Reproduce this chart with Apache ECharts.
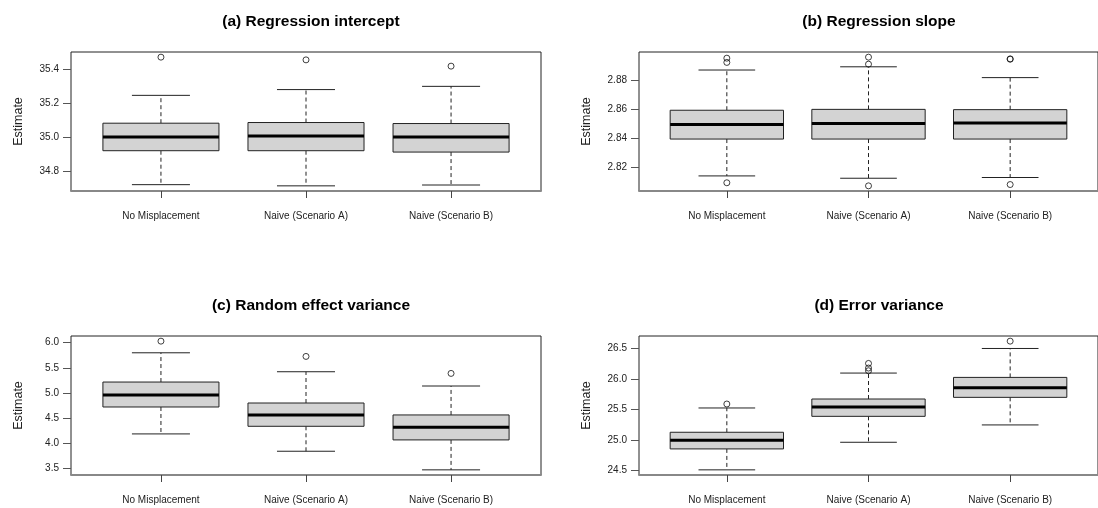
<!DOCTYPE html>
<html>
<head>
<meta charset="utf-8">
<script src="https://cdn.jsdelivr.net/npm/echarts@6/dist/echarts.min.js"></script>
<style>
  html, body { margin: 0; padding: 0; background: #fff; }
  #chart { width: 1098px; height: 508px; }
</style>
</head>
<body>
<div id="chart"></div>
<script>
// Groups shown on every panel
const categories = ['No Misplacement', 'Naive (Scenario A)', 'Naive (Scenario B)'];

// Five-number summaries per group: [lower whisker, Q1, median, Q3, upper whisker]
const interceptStats = [
  [34.722, 34.922, 35.002, 35.084, 35.248],
  [34.715, 34.922, 35.008, 35.088, 35.282],
  [34.720, 34.914, 35.002, 35.082, 35.301]
];
const interceptOutliers = [[35.473], [35.457], [35.420]];
const interceptTicks = [34.8, 35.0, 35.2, 35.4];

const slopeStats = [
  [2.8143, 2.8395, 2.8495, 2.8592, 2.8867],
  [2.8127, 2.8395, 2.8501, 2.8598, 2.8889],
  [2.8132, 2.8395, 2.8504, 2.8596, 2.8815]
];
const slopeOutliers = [[2.8096, 2.8919, 2.8948], [2.8075, 2.8907, 2.8955], [2.8084, 2.8941, 2.8943]];
const slopeTicks = [2.82, 2.84, 2.86, 2.88];

const reVarStats = [
  [4.189, 4.723, 4.960, 5.218, 5.798],
  [3.845, 4.340, 4.565, 4.802, 5.422],
  [3.476, 4.070, 4.321, 4.565, 5.139]
];
const reVarOutliers = [[6.029], [5.726], [5.389]];
const reVarTicks = [3.5, 4.0, 4.5, 5.0, 5.5, 6.0];

const errVarStats = [
  [24.511, 24.854, 24.996, 25.127, 25.525],
  [24.963, 25.388, 25.541, 25.672, 26.097],
  [25.247, 25.699, 25.857, 26.026, 26.500]
];
const errVarOutliers = [[25.590], [26.135, 26.179, 26.255], [26.620]];
const errVarTicks = [24.5, 25.0, 25.5, 26.0, 26.5];

const panelTitles = ['(a) Regression intercept', '(b) Regression slope', '(c) Random effect variance', '(d) Error variance'];

const FONT = 'Liberation Sans';

const panels = [
  { title: panelTitles[0], stats: interceptStats, outliers: interceptOutliers, ticks: interceptTicks, digits: 1, left: 71, top: 52 },
  { title: panelTitles[1], stats: slopeStats, outliers: slopeOutliers, ticks: slopeTicks, digits: 2, left: 639, top: 52 },
  { title: panelTitles[2], stats: reVarStats, outliers: reVarOutliers, ticks: reVarTicks, digits: 1, left: 71, top: 336 },
  { title: panelTitles[3], stats: errVarStats, outliers: errVarOutliers, ticks: errVarTicks, digits: 1, left: 639, top: 336 }
];
const PANEL_W = 470, PANEL_H = 139;

// Value range padded by 4% on each side, like a classic boxplot device
function paddedRange(stats, outliers) {
  const all = stats.flat().concat(outliers.flat());
  const lo = Math.min(...all), hi = Math.max(...all);
  const pad = (hi - lo) * 0.04;
  return [lo - pad, hi + pad];
}

// Box, dashed whiskers, caps and a heavy median line
function renderBox(params, api) {
  const x = api.value(0);
  const lo = api.value(1), q1 = api.value(2), med = api.value(3), q3 = api.value(4), hi = api.value(5);
  const pt = (dx, v) => api.coord([x + dx, v]);
  const seg = (a, b, style) => ({ type: 'line', shape: { x1: a[0], y1: a[1], x2: b[0], y2: b[1] }, style });
  const dashed = { stroke: '#222', lineWidth: 1, lineDash: [4, 3] };
  const solid = { stroke: '#222', lineWidth: 1 };
  const tl = pt(-0.4, q3), br = pt(0.4, q1);
  return {
    type: 'group',
    children: [
      seg(pt(0, q1), pt(0, lo), dashed),
      seg(pt(0, q3), pt(0, hi), dashed),
      seg(pt(-0.2, lo), pt(0.2, lo), solid),
      seg(pt(-0.2, hi), pt(0.2, hi), solid),
      { type: 'rect', shape: { x: tl[0], y: tl[1], width: br[0] - tl[0], height: br[1] - tl[1] },
        style: { fill: '#d3d3d3', stroke: '#222', lineWidth: 1 } },
      seg(pt(-0.4, med), pt(0.4, med), { stroke: '#000', lineWidth: 3 })
    ]
  };
}

const option = {
  animation: false,
  backgroundColor: '#fff',
  textStyle: { fontFamily: FONT },
  title: [], grid: [], xAxis: [], yAxis: [], series: []
};

panels.forEach((p, i) => {
  const [yMin, yMax] = paddedRange(p.stats, p.outliers);
  option.title.push({
    text: p.title,
    left: p.left + PANEL_W / 2,
    top: p.top - 43,
    textAlign: 'center',
    textStyle: { fontFamily: FONT, fontSize: 15.5, fontWeight: 'bold', color: '#000' }
  });
  option.grid.push({
    left: p.left, top: p.top, width: PANEL_W, height: PANEL_H,
    show: true, borderColor: '#222', borderWidth: 1, backgroundColor: 'transparent'
  });
  option.xAxis.push({
    type: 'value', gridIndex: i, min: 0.38, max: 3.62,
    axisLine: { show: true, onZero: false, lineStyle: { color: '#888', width: 2 } },
    axisTick: { show: true, length: 7, customValues: [1, 2, 3], lineStyle: { color: '#444' } },
    axisLabel: {
      show: true, customValues: [1, 2, 3], margin: 20,
      fontFamily: FONT, fontSize: 10, color: '#222',
      formatter: v => categories[Math.round(v) - 1]
    },
    splitLine: { show: false }
  });
  option.yAxis.push({
    type: 'value', gridIndex: i, min: yMin, max: yMax,
    name: 'Estimate', nameLocation: 'middle', nameGap: 46, nameRotate: 90,
    nameTextStyle: { fontFamily: FONT, fontSize: 12.5, color: '#222' },
    axisLine: { show: false },
    axisTick: { show: true, length: 8, customValues: p.ticks, lineStyle: { color: '#555' } },
    axisLabel: {
      show: true, customValues: p.ticks, margin: 12,
      fontFamily: FONT, fontSize: 10, color: '#222',
      formatter: v => Number(v).toFixed(p.digits)
    },
    splitLine: { show: false }
  });
  option.series.push({
    type: 'custom', xAxisIndex: i, yAxisIndex: i,
    renderItem: renderBox,
    encode: { x: 0, y: [1, 2, 3, 4, 5] },
    data: p.stats.map((s, k) => [k + 1].concat(s))
  });
  option.series.push({
    type: 'scatter', xAxisIndex: i, yAxisIndex: i,
    symbol: 'circle', symbolSize: 6,
    itemStyle: { color: 'rgba(0,0,0,0)', borderColor: '#111', borderWidth: 1 },
    data: p.outliers.flatMap((vals, k) => vals.map(v => [k + 1, v]))
  });
});

const chart = echarts.init(document.getElementById('chart'), null, { renderer: 'canvas' });
chart.setOption(option);
</script>
</body>
</html>
